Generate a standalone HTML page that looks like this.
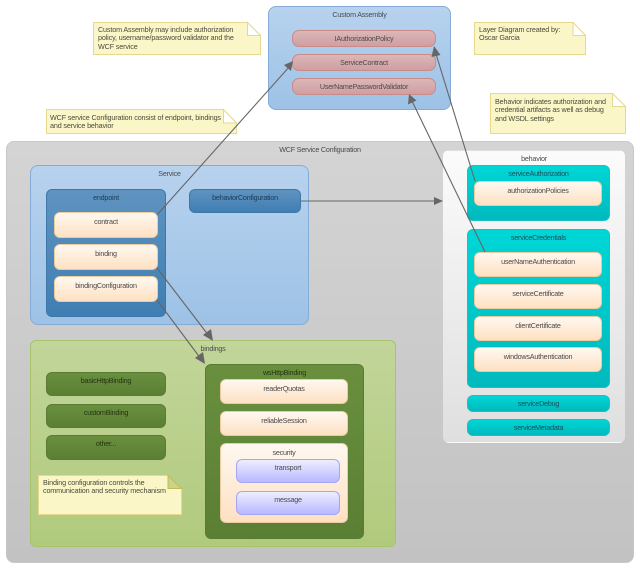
<!DOCTYPE html>
<html><head><meta charset="utf-8">
<style>
html,body{margin:0;padding:0;background:#fff;width:640px;height:569px;overflow:hidden}
body{position:relative;font-family:"Liberation Sans",sans-serif;font-size:7.2px;letter-spacing:-.22px;color:#4a4a4a}
#w{position:absolute;left:0;top:0;width:640px;height:569px;filter:blur(.25px)}
.b{position:absolute;box-sizing:border-box;text-align:center;line-height:10px;padding-top:3px;white-space:nowrap;border-style:solid;border-width:1px}
.outer{background:linear-gradient(#d4d4d4,#c2c2c2);border-color:#c8c8c8;border-radius:8px}
.blue{background:linear-gradient(#b7d2ee,#9dc2e6);border-color:#85acd6;border-radius:8px}
.pill{background:linear-gradient(#dcb6b8,#cf9fa1);border-color:#c98a8a;border-radius:7px}
.ep{background:linear-gradient(#5f93c0,#3f7eb3);border-color:#3f78a8;border-radius:6px;color:#1d3a55}
.or{background:linear-gradient(#fff8f0,#fee0c2);border-color:#eecb9f;border-radius:6px;padding-top:3.6px}
.gl{background:linear-gradient(#c2d59a,#b0ca7c);border-color:#a6c46c;border-radius:6px}
.gd{background:linear-gradient(#698f3e,#5a7f34);border-color:#587c33;border-radius:6px;color:#24350f}
.pu{background:linear-gradient(#eeeeff,#b8b8ff);border-color:#a5a5f5;border-radius:6px}
.wh{background:linear-gradient(#fbfbfb,#dfdfdf);border-color:transparent;border-radius:6px}
.te{background:linear-gradient(#00d6d6,#00b9bd);border-color:#1cc0c0;border-radius:6px;color:#17505a}
svg{position:absolute;left:0;top:0}
.nt{position:absolute;line-height:8.7px;white-space:nowrap;color:#4a4a3a;letter-spacing:-.14px}
</style></head><body><div id="w">
<div class="b outer" style="left:6px;top:141px;width:628px;height:422px">WCF Service Configuration</div>
<div class="b blue" style="left:268px;top:6px;width:183px;height:104px">Custom Assembly</div>
<div class="b pill" style="left:292px;top:30px;width:144px;height:17px">IAuthorizationPolicy</div>
<div class="b pill" style="left:292px;top:54px;width:144px;height:17px">ServiceContract</div>
<div class="b pill" style="left:292px;top:78px;width:144px;height:17px">UserNamePasswordValidator</div>

<div class="b blue" style="left:30px;top:165px;width:279px;height:160px">Service</div>
<div class="b ep" style="left:46px;top:189px;width:120px;height:128px">endpoint</div>
<div class="b or" style="left:54px;top:212px;width:104px;height:26px">contract</div>
<div class="b or" style="left:54px;top:244px;width:104px;height:26px">binding</div>
<div class="b or" style="left:54px;top:276px;width:104px;height:26px">bindingConfiguration</div>
<div class="b ep" style="left:189px;top:189px;width:112px;height:24px">behaviorConfiguration</div>

<div class="b gl" style="left:30px;top:340px;width:366px;height:207px">bindings</div>
<div class="b gd" style="left:46px;top:372px;width:120px;height:24px">basicHttpBinding</div>
<div class="b gd" style="left:46px;top:404px;width:120px;height:24px">customBinding</div>
<div class="b gd" style="left:46px;top:435px;width:120px;height:25px">other...</div>
<div class="b gd" style="left:205px;top:364px;width:159px;height:175px">wsHttpBinding</div>
<div class="b or" style="left:220px;top:379px;width:128px;height:25px">readerQuotas</div>
<div class="b or" style="left:220px;top:411px;width:128px;height:25px">reliableSession</div>
<div class="b or" style="left:220px;top:443px;width:128px;height:80px">security</div>
<div class="b pu" style="left:236px;top:459px;width:104px;height:24px">transport</div>
<div class="b pu" style="left:236px;top:491px;width:104px;height:24px">message</div>

<div class="b wh" style="left:443px;top:150px;width:182px;height:293px">behavior</div>
<div class="b te" style="left:467px;top:165px;width:143px;height:56px">serviceAuthorization</div>
<div class="b or" style="left:474px;top:181px;width:128px;height:25px">authorizationPolicies</div>
<div class="b te" style="left:467px;top:229px;width:143px;height:159px">serviceCredentials</div>
<div class="b or" style="left:474px;top:252px;width:128px;height:25px">userNameAuthentication</div>
<div class="b or" style="left:474px;top:284px;width:128px;height:25px">serviceCertificate</div>
<div class="b or" style="left:474px;top:316px;width:128px;height:25px">clientCertificate</div>
<div class="b or" style="left:474px;top:347px;width:128px;height:25px">windowsAuthentication</div>
<div class="b te" style="left:467px;top:395px;width:143px;height:17px">serviceDebug</div>
<div class="b te" style="left:467px;top:419px;width:143px;height:17px">serviceMetadata</div>

<svg width="640" height="569" viewBox="0 0 640 569">
<g fill="#fbf6c8" stroke="#e6d98f" stroke-width="1">
<path d="M93.5 22.5H247.5L260.5 35.5V54.500H93.5Z"/>
<path d="M46.5 109.5H223.5L236.500 123V133.500H46.5Z"/>
<path d="M474.5 22.5H573L585.5 35.5V54.500H474.5Z"/>
<path d="M490.5 93.5H612.5L625.5 106.500V133.500H490.5Z"/>
<path d="M38.5 475.5H168L181.5 488.500V514.500H38.5Z"/>
</g>
<g fill="#fff" stroke="#e6d98f" stroke-width="1">
<path d="M247.5 22.5V35.5H260.5Z"/>
<path d="M223.5 109.5V123H236.5Z"/>
<path d="M573 22.5V35.5H585.5Z"/>
<path d="M612.5 93.5V106.500H625.5Z"/>
<path d="M168 475.5V488.500H181.5Z" fill="#c6d48c" stroke="#c9b94a"/>
</g>
<g stroke="#666" stroke-width="1.1" fill="none">
<line x1="157" y1="215" x2="290" y2="66"/>
<line x1="157" y1="268" x2="209" y2="336"/>
<line x1="157" y1="300" x2="201" y2="359"/>
<line x1="301" y1="201" x2="436" y2="201"/>
<line x1="475" y1="181" x2="436" y2="54"/>
<line x1="485" y1="252" x2="412" y2="101"/>
</g>
<g fill="#666">
<polygon points="293,61 291,71 284,65"/>
<polygon points="213,341 203,335 211,329"/>
<polygon points="205,364 195,358 203,352"/>
<polygon points="443,201 434,197 434,205"/>
<polygon points="434,46 440.500,55 431.500,57"/>
<polygon points="409,94 416.500,100.500 408,104.500"/>
</g>
</svg>
<div class="nt" style="left:98px;top:25.500px">Custom Assembly may include authorization<br>policy, username/password validator and the<br>WCF service</div>
<div class="nt" style="left:50px;top:113.500px">WCF service Configuration consist of endpoint, bindings<br>and service behavior</div>
<div class="nt" style="left:479px;top:25.500px">Layer Diagram created by:<br>Oscar Garcia</div>
<div class="nt" style="left:495px;top:97.500px">Behavior indicates authorization and<br>credential artifacts as well as debug<br>and WSDL settings</div>
<div class="nt" style="left:43px;top:478.500px">Binding configuration controls the<br>communication and security mechanism</div>
</div></body></html>
